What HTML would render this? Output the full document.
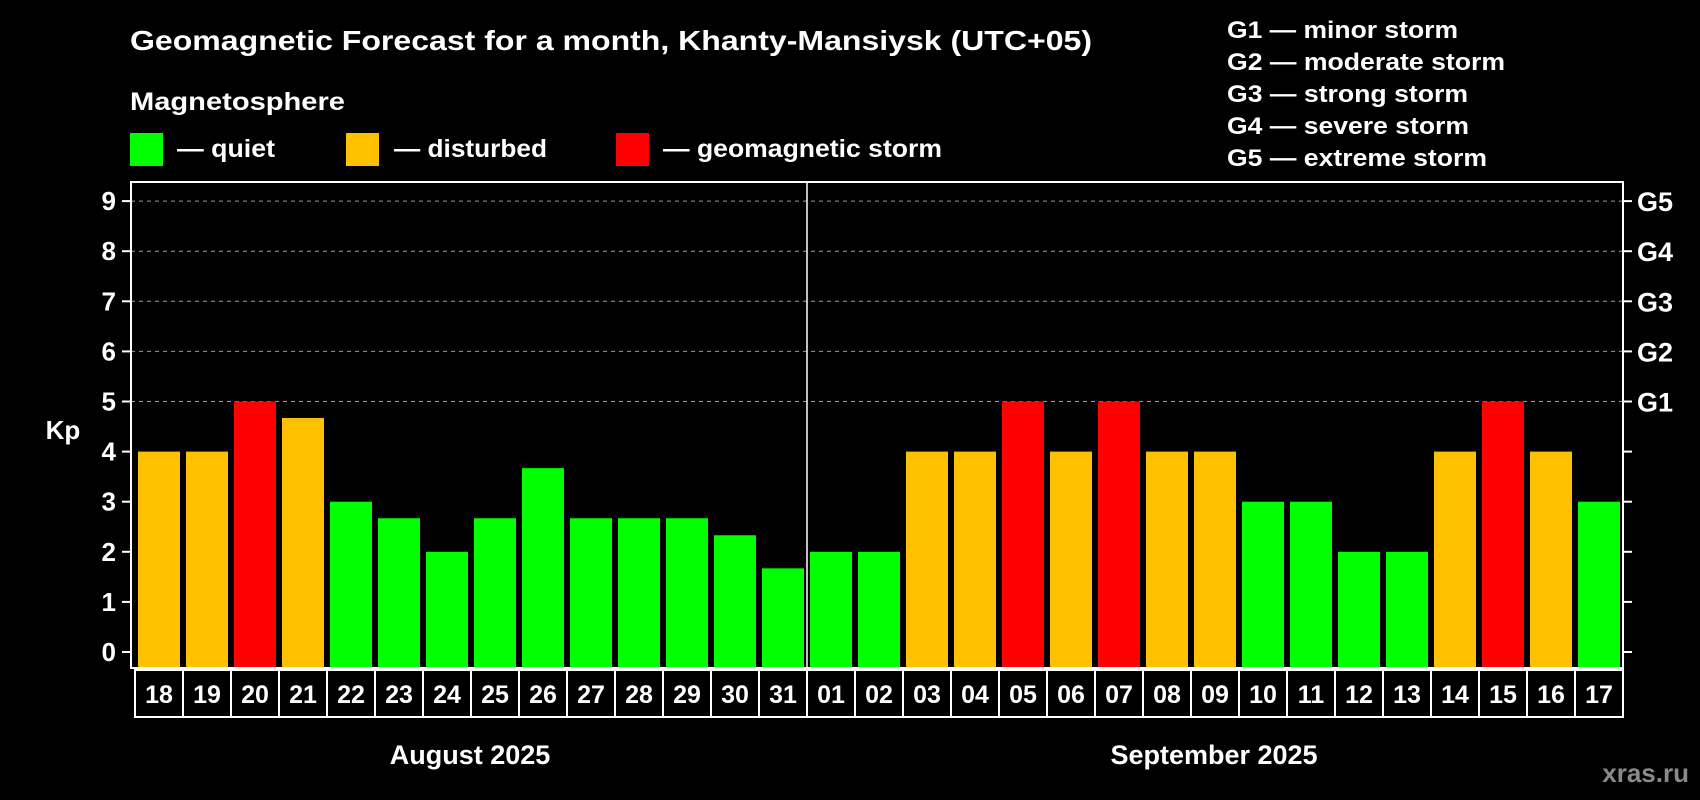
<!DOCTYPE html>
<html><head><meta charset="utf-8"><style>
html,body{margin:0;padding:0;background:#000;}
svg{display:block;font-family:"Liberation Sans",Arial,sans-serif;font-weight:bold;}
</style></head><body>
<svg id="chart" width="1700" height="800" viewBox="0 0 1700 800">
<rect x="0" y="0" width="1700" height="800" fill="#000"/>
<text x="130" y="50" fill="#fff" font-size="28" textLength="962" lengthAdjust="spacingAndGlyphs">Geomagnetic Forecast for a month, Khanty-Mansiysk (UTC+05)</text>
<text x="130" y="110" fill="#fff" font-size="25" textLength="215" lengthAdjust="spacingAndGlyphs">Magnetosphere</text>
<g>
<rect x="130" y="133" width="33" height="33" fill="#00ff00"/>
<text x="177" y="157" fill="#fff" font-size="25" textLength="98" lengthAdjust="spacingAndGlyphs">— quiet</text>
</g>
<g>
<rect x="346" y="133" width="33" height="33" fill="#ffc000"/>
<text x="394" y="157" fill="#fff" font-size="25" textLength="153" lengthAdjust="spacingAndGlyphs">— disturbed</text>
</g>
<g>
<rect x="616" y="133" width="33" height="33" fill="#ff0000"/>
<text x="663" y="157" fill="#fff" font-size="25" textLength="279" lengthAdjust="spacingAndGlyphs">— geomagnetic storm</text>
</g>
<g font-size="24" fill="#fff">
<text x="1227" y="38" textLength="231" lengthAdjust="spacingAndGlyphs">G1 — minor storm</text>
<text x="1227" y="70" textLength="278" lengthAdjust="spacingAndGlyphs">G2 — moderate storm</text>
<text x="1227" y="102" textLength="241" lengthAdjust="spacingAndGlyphs">G3 — strong storm</text>
<text x="1227" y="134" textLength="242" lengthAdjust="spacingAndGlyphs">G4 — severe storm</text>
<text x="1227" y="166" textLength="260" lengthAdjust="spacingAndGlyphs">G5 — extreme storm</text>
</g>
<g id="grid"></g>
<g id="bars"></g>
<g id="axes"></g>
<text x="63" y="439" fill="#fff" font-size="26" text-anchor="middle">Kp</text>
<text x="470" y="764" fill="#fff" font-size="27" text-anchor="middle">August 2025</text>
<text x="1214" y="764" fill="#fff" font-size="27" text-anchor="middle">September 2025</text>
<text x="1689" y="782" fill="#8a8a8a" font-size="26" text-anchor="end">xras.ru</text>
</svg>
<script>
const days = ["18","19","20","21","22","23","24","25","26","27","28","29","30","31","01","02","03","04","05","06","07","08","09","10","11","12","13","14","15","16","17"];
const kpValues = [4,4,5,4.67,3,2.67,2,2.67,3.67,2.67,2.67,2.67,2.33,1.67,2,2,4,4,5,4,5,4,4,3,3,2,2,4,5,4,3];
const yTicks = [0,1,2,3,4,5,6,7,8,9];
const gTicks = [5,6,7,8,9];
const gLabels = ["G1","G2","G3","G4","G5"];
const monthBreakIndex = 14;

const NS = "http://www.w3.org/2000/svg";
const L = 131, R = 1623, T = 182, B = 668;
const y0 = 652, unit = 50.1;
const yScale = v => y0 - v * unit;
const xBar = i => 138 + i * 48;
const barW = 42;
function mk(tag, attrs, parent) {
  const e = document.createElementNS(NS, tag);
  for (const k in attrs) e.setAttribute(k, attrs[k]);
  parent.appendChild(e);
  return e;
}
const grid = document.getElementById("grid");
const bars = document.getElementById("bars");
const axes = document.getElementById("axes");
function colorFor(v) { return v >= 5 ? "#ff0000" : (v >= 4 ? "#ffc000" : "#00ff00"); }

gTicks.forEach((v, i) => {
  const g = mk("line", {x1: L, x2: R, y1: yScale(v), y2: yScale(v), stroke: "#999", "stroke-width": 1, "stroke-dasharray": "4,4"}, grid);
  
  
  const t = mk("text", {x: 1637, y: yScale(v) + 10, fill: "#fff", "font-size": 27}, axes);
  t.textContent = gLabels[i];
  
  
});

kpValues.forEach((v, i) => {
  const r = mk("rect", {x: xBar(i), y: yScale(v), width: barW, height: B - yScale(v), fill: colorFor(v)}, bars);
  
  
});

const frame = mk("rect", {x: L, y: T, width: R - L, height: B - T, fill: "none", stroke: "#fff", "stroke-width": 2}, axes);


const sepX = xBar(monthBreakIndex) - 3;
const sep = mk("line", {x1: sepX, x2: sepX, y1: T, y2: B, stroke: "#fff", "stroke-width": 1.5}, axes);



yTicks.forEach(v => {
  const tl = mk("line", {x1: 122, x2: L, y1: yScale(v), y2: yScale(v), stroke: "#fff", "stroke-width": 2}, axes);
  
  
  const tr = mk("line", {x1: R, x2: R + 9, y1: yScale(v), y2: yScale(v), stroke: "#fff", "stroke-width": 2}, axes);
  
  
  const t = mk("text", {x: 116, y: yScale(v) + 9, fill: "#fff", "font-size": 26, "text-anchor": "end"}, axes);
  t.textContent = v;
  
  
});

days.forEach((d, i) => {
  const bx = 135 + i * 48;
  const box = mk("rect", {x: bx, y: 670, width: 48, height: 47, fill: "#000", stroke: "#fff", "stroke-width": 2}, axes);
  
  
  const t = mk("text", {x: bx + 24, y: 703, fill: "#fff", "font-size": 25, "text-anchor": "middle"}, axes);
  t.textContent = d;
  
  
});
</script>
</body></html>
